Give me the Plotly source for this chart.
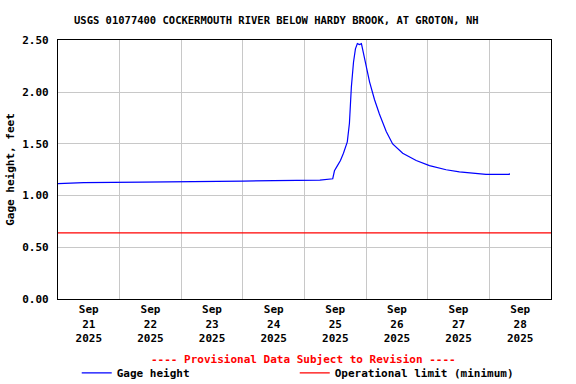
import plotly.graph_objects as go

# Gage height series
times = [
    "2025-09-21 00:00", "2025-09-21 10:00", "2025-09-22 09:00", "2025-09-23 00:00",
    "2025-09-23 12:00", "2025-09-24 00:00", "2025-09-24 12:00", "2025-09-25 00:00",
    "2025-09-25 06:00", "2025-09-25 11:00", "2025-09-25 11:40", "2025-09-25 12:50",
    "2025-09-25 14:00", "2025-09-25 15:10", "2025-09-25 16:40", "2025-09-25 17:30",
    "2025-09-25 18:15", "2025-09-25 19:05", "2025-09-25 19:50", "2025-09-25 20:35",
    "2025-09-25 21:25", "2025-09-25 22:10", "2025-09-25 23:00", "2025-09-26 00:05",
    "2025-09-26 01:20", "2025-09-26 03:15", "2025-09-26 05:10", "2025-09-26 07:50",
    "2025-09-26 10:20", "2025-09-26 14:15", "2025-09-26 19:30", "2025-09-27 00:40",
    "2025-09-27 07:10", "2025-09-27 12:20", "2025-09-27 17:20", "2025-09-27 22:40",
    "2025-09-28 07:45", "2025-09-28 07:50",
]
gage_height = [
    1.115, 1.125, 1.13, 1.132,
    1.135, 1.14, 1.145, 1.147,
    1.15, 1.163, 1.24, 1.29,
    1.34, 1.41, 1.52, 1.70,
    2.05, 2.29, 2.42, 2.47,
    2.46, 2.47, 2.38, 2.25,
    2.10, 1.93, 1.79, 1.62,
    1.50, 1.41, 1.34, 1.29,
    1.25, 1.23, 1.215, 1.205,
    1.205, 1.215,
]

limit_times = ["2025-09-21 00:00", "2025-09-29 00:00"]
operational_limit = [0.64, 0.64]

y_ticks = [0.0, 0.5, 1.0, 1.5, 2.0, 2.5]

title_text = "USGS 01077400 COCKERMOUTH RIVER BELOW HARDY BROOK, AT GROTON, NH"
provisional_text = "---- Provisional Data Subject to Revision ----"

FONT = "DejaVu Sans Mono"

fig = go.Figure()
fig.add_trace(go.Scatter(
    x=times, y=gage_height, mode="lines", name="Gage height",
    line=dict(color="#0000ff", width=1.2),
))
fig.add_trace(go.Scatter(
    x=limit_times, y=operational_limit, mode="lines",
    name="Operational limit (minimum)",
    line=dict(color="#ff0000", width=1.2),
))

fig.update_layout(
    width=576, height=384,
    margin=dict(l=58, r=25, t=40, b=85, autoexpand=False),
    paper_bgcolor="white", plot_bgcolor="white",
    font=dict(family=FONT, size=11, color="black", weight="bold"),
    showlegend=True,
    legend=dict(
        orientation="h", x=0.038, xanchor="left", y=-0.285, yanchor="middle",
        entrywidth=173, entrywidthmode="pixels", itemwidth=30,
        font=dict(family=FONT, size=11, color="black", weight="bold"),
        bgcolor="rgba(0,0,0,0)",
    ),
    annotations=[
        dict(text=title_text, xref="paper", yref="paper", x=0.444, y=1.0,
             yshift=20, xanchor="center", yanchor="middle", showarrow=False,
             font=dict(family=FONT, size=10.5, color="black", weight="bold")),
        dict(text=provisional_text, xref="paper", yref="paper", x=0.498, y=-0.233,
             xanchor="center", yanchor="middle", showarrow=False,
             font=dict(family=FONT, size=11, color="#ff0000", weight="bold")),
    ],
)

fig.update_xaxes(
    type="date", range=["2025-09-21 00:00", "2025-09-29 00:00"],
    tick0="2025-09-21", dtick=86400000, ticklabelmode="period",
    tickformat="%b<br>%d<br>%Y", automargin=False,
    showgrid=True, gridcolor="#c8c8c8", gridwidth=1,
    showline=True, mirror=True, linecolor="black", linewidth=1.2,
    ticks="", zeroline=False,
    tickfont=dict(family=FONT, size=11, color="black", weight="bold"),
)
fig.update_yaxes(
    range=[0, 2.505], tickvals=y_ticks, tickformat=".2f", automargin=False,
    showgrid=True, gridcolor="#c8c8c8", gridwidth=1,
    showline=True, mirror=True, linecolor="black", linewidth=1.2,
    ticks="", zeroline=False, ticklabelstandoff=6,
    tickfont=dict(family=FONT, size=11, color="black", weight="bold"),
    title=dict(text="Gage height, feet", standoff=5,
               font=dict(family=FONT, size=11, color="black", weight="bold")),
)

fig.write_html("out.html", config={"displayModeBar": False},
               post_script="document.body.style.margin='0px';")
